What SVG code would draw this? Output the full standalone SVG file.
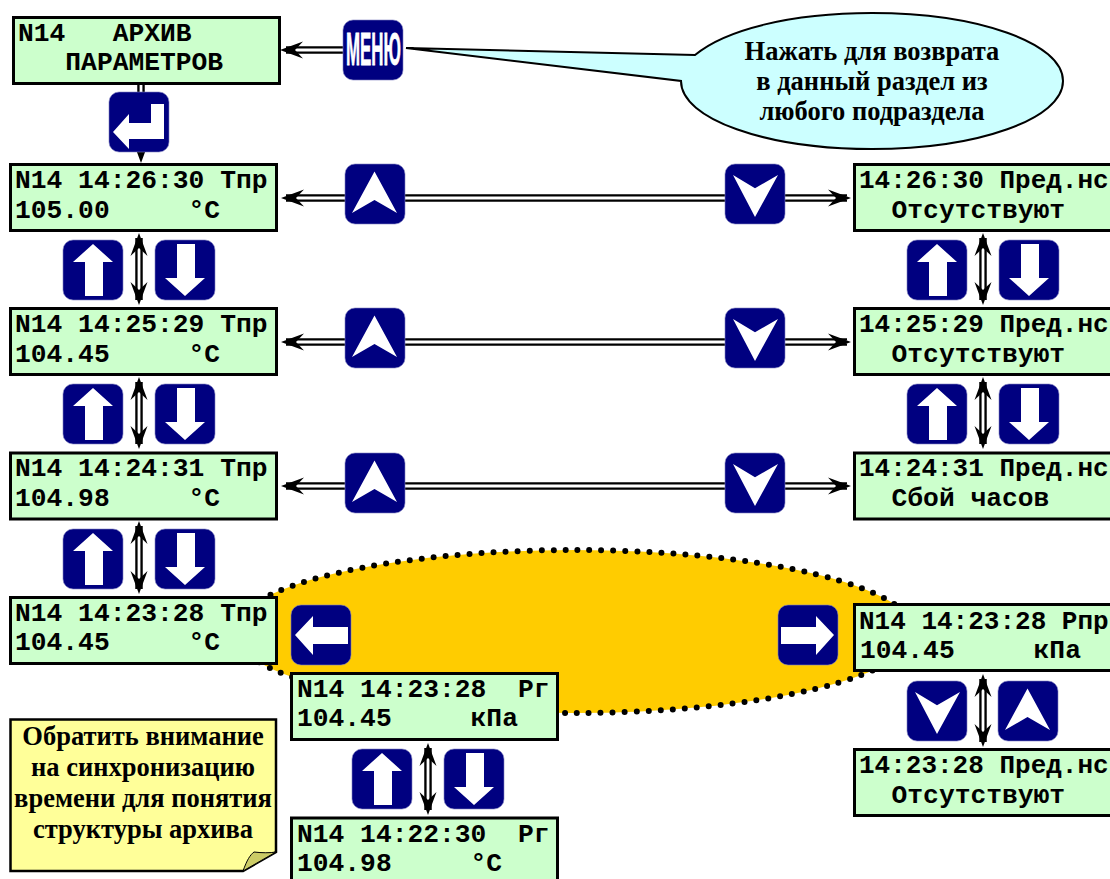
<svg xmlns="http://www.w3.org/2000/svg" xmlns:xlink="http://www.w3.org/1999/xlink" width="1110" height="879" viewBox="0 0 1110 879">
<style>
.lcd{fill:#ccffcc;stroke:#000;stroke-width:3}
.t{font-family:"Liberation Mono",monospace;font-weight:bold;font-size:26.3px;fill:#000;white-space:pre}
.r{font-size:26px}
.n{font-family:"Liberation Serif",serif;font-weight:bold;font-size:26.5px;fill:#000;text-anchor:middle}
.o{stroke:#000;stroke-width:7.500;fill:none}
.i{stroke:#fff;stroke-width:2.800;fill:none;marker-end:url(#h);marker-start:url(#h)}
.e{stroke:#fff;stroke-width:2.800;fill:none;marker-end:url(#h)}
.bg{fill:#000080;stroke:#7f7fc0;stroke-width:.6}
.g{fill:#fff}
</style>
<defs>
<marker id="h" markerUnits="userSpaceOnUse" viewBox="-25 -11 26 22" refX="0" refY="0" markerWidth="26" markerHeight="22" orient="auto-start-reverse"><path d="M0 0L-23 -8.500L-15 0L-23 8.500Z" fill="#000"/></marker>
<rect id="b" width="60" height="60" rx="10" class="bg"/>
<g id="up"><use xlink:href="#b"/><path class="g" d="M30 4L50 22H40V56H22V22H10Z"/></g>
<g id="dn"><use xlink:href="#b"/><path class="g" d="M30 56L50 38H40V4H22V38H10Z"/></g>
<g id="nu"><use xlink:href="#b"/><path class="g" d="M29.5 7.500L52 49L29.500 36L7 49Z"/></g>
<g id="nd"><use xlink:href="#b"/><path class="g" d="M30 53L53 11L30 24.300L8 11Z"/></g>
<g id="lf"><use xlink:href="#b"/><path class="g" d="M4 30L22 11V22H57V39H22V50Z"/></g>
<g id="rt"><use xlink:href="#b"/><path class="g" d="M56 30L38 11V22H3V39H38V50Z"/></g>
</defs>
<g id="highlight"><ellipse cx="574" cy="631.500" rx="340" ry="81.500" fill="#ffcc00" stroke="#000" stroke-width="6" stroke-linecap="round" stroke-dasharray="0 12"/></g>
<g id="connectors">
<path class="o" d="M286 50H343"/><path class="e" d="M343 50H280"/>
<path class="o" d="M141 84V150"/><path class="e" d="M141 84V163"/>
<path class="o" d="M286 198H847"/><path class="i" d="M281 198H851"/>
<path class="o" d="M286 342H847"/><path class="i" d="M281 342H851"/>
<path class="o" d="M286 486H847"/><path class="i" d="M281 486H851"/>
<path class="o" d="M139 238V300"/><path class="i" d="M139 233V305"/>
<path class="o" d="M139 382V444"/><path class="i" d="M139 377V449"/>
<path class="o" d="M139 526V589"/><path class="i" d="M139 521V594"/>
<path class="o" d="M983 238V300"/><path class="i" d="M983 233V305"/>
<path class="o" d="M983 382V444"/><path class="i" d="M983 377V449"/>
<path class="o" d="M983 679V742"/><path class="i" d="M983 674V747"/>
<path class="o" d="M428 748V810"/><path class="i" d="M428 743V815"/>
</g>
<g id="callout"><path d="M406 48L695 55C725 30 790 13 872 13C978 13 1063 43 1063 81C1063 119 978 149 872 149C766 149 681 119 681 81Z" fill="#ccffff" stroke="#000" stroke-width="2"/>
<text class="n" x="872" y="60">Нажать для возврата</text><text class="n" x="872" y="90">в данный раздел из</text><text class="n" x="872" y="120">любого подраздела</text></g>
<g id="note"><path d="M10.500 719.500H276V852L243 871H10.500Z" fill="#ffff99" stroke="#000" stroke-width="2.500"/><path d="M243 871C247 860 250 855 254 852C262 853 270 853 276 852Z" fill="#cccc66" stroke="#000" stroke-width="1"/>
<text class="n" x="143" y="745">Обратить внимание</text><text class="n" x="143" y="776">на синхронизацию</text><text class="n" x="143" y="807">времени для понятия</text><text class="n" x="143" y="838">структуры архива</text></g>
<g id="box-menu"><rect class="lcd" x="13.500" y="17.500" width="266" height="66"/><text class="t" x="18" y="41">N14   АРХИВ</text><text class="t" x="18" y="70">   ПАРАМЕТРОВ</text></g>
<g id="box-l1"><rect class="lcd" x="10.500" y="164.500" width="266" height="66"/><text class="t" x="15" y="188">N14 14:26:30 Тпр</text><text class="t" x="15" y="218">105.00     °С</text></g>
<g id="box-l2"><rect class="lcd" x="10.500" y="308.500" width="266" height="66"/><text class="t" x="15" y="332">N14 14:25:29 Тпр</text><text class="t" x="15" y="362">104.45     °С</text></g>
<g id="box-l3"><rect class="lcd" x="10.500" y="453" width="266" height="66"/><text class="t" x="15" y="476">N14 14:24:31 Тпр</text><text class="t" x="15" y="506">104.98     °С</text></g>
<g id="box-l4"><rect class="lcd" x="10.500" y="597.500" width="266" height="66"/><text class="t" x="15" y="621">N14 14:23:28 Тпр</text><text class="t" x="15" y="650">104.45     °С</text></g>
<g id="box-r1"><rect class="lcd" x="854.500" y="164.500" width="266" height="66"/><text class="t r" x="859" y="188">14:26:30 Пред.нс</text><text class="t" x="860" y="218">  Отсутствуют</text></g>
<g id="box-r2"><rect class="lcd" x="854.500" y="308.500" width="266" height="66"/><text class="t r" x="859" y="332">14:25:29 Пред.нс</text><text class="t" x="860" y="362">  Отсутствуют</text></g>
<g id="box-r3"><rect class="lcd" x="854.500" y="453" width="266" height="66"/><text class="t r" x="859" y="476">14:24:31 Пред.нс</text><text class="t" x="860" y="506">  Сбой часов</text></g>
<g id="box-r4"><rect class="lcd" x="854.500" y="604.500" width="266" height="66"/><text class="t r" x="859" y="629">N14 14:23:28 Рпр</text><text class="t" x="860" y="658">104.45     кПа</text></g>
<g id="box-r5"><rect class="lcd" x="854.500" y="749.500" width="266" height="66"/><text class="t r" x="859" y="773">14:23:28 Пред.нс</text><text class="t" x="860" y="803">  Отсутствуют</text></g>
<g id="box-m1"><rect class="lcd" x="291.500" y="673.500" width="266" height="66"/><text class="t" x="297" y="697">N14 14:23:28  Рг</text><text class="t" x="297" y="726">104.45     кПа</text></g>
<g id="box-m2"><rect class="lcd" x="291.500" y="818" width="266" height="66"/><text class="t" x="297" y="842">N14 14:22:30  Рг</text><text class="t" x="297" y="871">104.98     °С</text></g>
<g id="btn-menu"><use xlink:href="#b" x="343" y="20"/><text x="346" y="65" textLength="55" lengthAdjust="spacingAndGlyphs" font-family="Liberation Sans,sans-serif" font-weight="bold" font-size="46" fill="#fff" stroke="#fff" stroke-width=".8">МЕНЮ</text></g>
<g id="btn-enter"><use xlink:href="#b" x="109" y="92"/><path class="g" transform="translate(109 92)" d="M55 12H42V31H20V22L4 40L20 57V47H55Z"/></g>
<g id="buttons">
<use xlink:href="#nu" x="345" y="164"/><use xlink:href="#nd" x="725" y="164"/>
<use xlink:href="#nu" x="345" y="308"/><use xlink:href="#nd" x="725" y="308"/>
<use xlink:href="#nu" x="345" y="453"/><use xlink:href="#nd" x="725" y="453"/>
<use xlink:href="#up" x="63" y="240"/><use xlink:href="#dn" x="155" y="240"/>
<use xlink:href="#up" x="63" y="384"/><use xlink:href="#dn" x="155" y="384"/>
<use xlink:href="#up" x="63" y="529"/><use xlink:href="#dn" x="155" y="529"/>
<use xlink:href="#up" x="907" y="240"/><use xlink:href="#dn" x="999" y="240"/>
<use xlink:href="#up" x="907" y="384"/><use xlink:href="#dn" x="999" y="384"/>
<use xlink:href="#lf" x="291" y="605"/><use xlink:href="#rt" x="778" y="605"/>
<use xlink:href="#nd" x="907" y="681"/><use xlink:href="#nu" x="998" y="681"/>
<use xlink:href="#up" x="352" y="749"/><use xlink:href="#dn" x="444" y="749"/>
</g>
</svg>
